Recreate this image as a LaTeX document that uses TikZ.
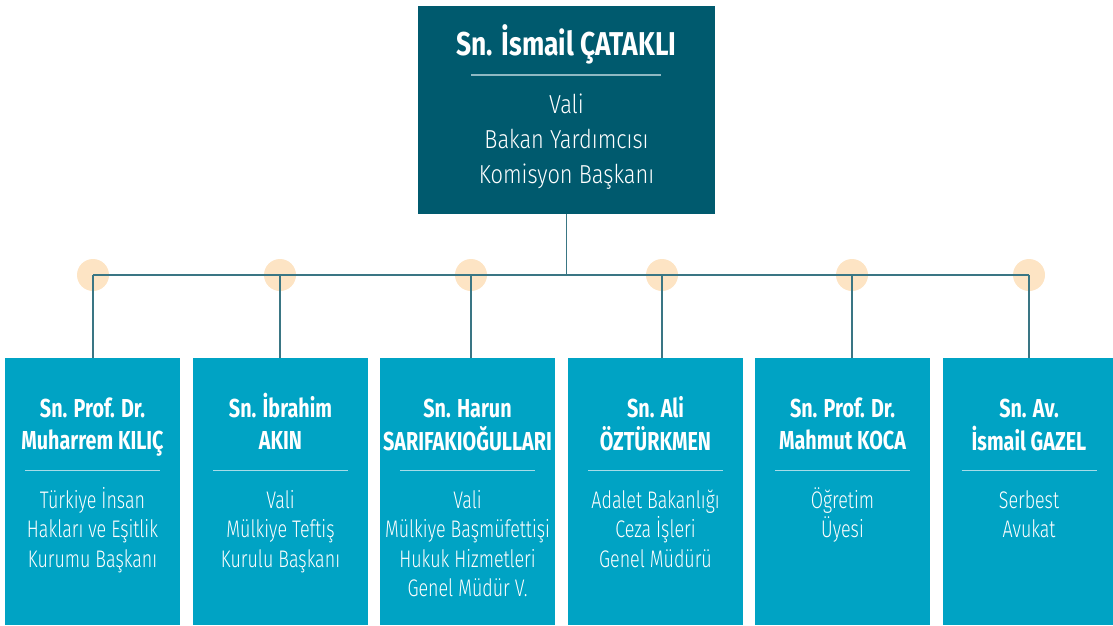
\documentclass[tikz,border=0pt]{standalone}
\usepackage{fontspec}
\setmainfont{Fira Sans}[FakeStretch=0.8]
\newfontfamily\namefont{Fira Sans}[FakeStretch=0.76]
\newfontfamily\descfont{Fira Sans Light}[FakeStretch=0.745]
\newfontfamily\topdescfont{Fira Sans Light}[FakeStretch=0.84]
\definecolor{topcol}{HTML}{005A6E}
\definecolor{botcol}{HTML}{00A3C4}
\definecolor{conncol}{HTML}{3A7684}
\definecolor{dotcol}{HTML}{FDE4C4}
\definecolor{ruletop}{HTML}{8FB9C3}
\definecolor{rulebot}{HTML}{A6DCE9}
\newcommand\mystack[1]{\begin{tabular}[t]{@{}c@{}}#1\end{tabular}}
\tikzset{
  topbox/.style={fill=topcol,draw=none,minimum width=297pt,minimum height=208pt,inner sep=0pt},
  botbox/.style={fill=botcol,draw=none,minimum width=175pt,minimum height=267pt,inner sep=0pt},
  dot/.style={circle,fill=dotcol,draw=none,minimum size=32pt,inner sep=0pt},
  conn/.style={draw=conncol,line width=1.2pt},
  toptitle/.style={text=white,anchor=base,inner sep=0pt,font=\bfseries\fontsize{33}{36}\selectfont},
  topdesc/.style={text=white,anchor=base,inner sep=0pt,font=\topdescfont\fontsize{26}{35}\selectfont},
  botname/.style={text=white,anchor=base,inner sep=0pt,font=\namefont\bfseries\fontsize{26}{32}\selectfont},
  botdesc/.style={text=white,anchor=base,inner sep=0pt,font=\descfont\fontsize{24}{29.5}\selectfont},
  toprule/.style={draw=ruletop,line width=1.2pt},
  botrule/.style={draw=rulebot,line width=1.2pt},
}
\begin{document}
\begin{tikzpicture}[x=1pt,y=-1pt]
\useasboundingbox (0,0) rectangle (1113,625);
% top box
\node[topbox] (top) at (566.5,110) {};
\node[toptitle] (toptxt) at (566.5,55) {Sn. İsmail ÇATAKLI};
\draw[toprule] (471,75) -- (661,75);
\node[topdesc] (topd) at (566.5,113) {\mystack{Vali\\Bakan Yardımcısı\\Komisyon Başkanı}};
% dots
\node[dot] (c1) at (93,275) {};
\node[dot] (c2) at (280,275) {};
\node[dot] (c3) at (471,275) {};
\node[dot] (c4) at (662,275) {};
\node[dot] (c5) at (852,275) {};
\node[dot] (c6) at (1029,275) {};
% bottom boxes
\node[botbox] (b1) at (92.5,491.5) {};
\node[botbox] (b2) at (280.5,491.5) {};
\node[botbox] (b3) at (467.5,491.5) {};
\node[botbox] (b4) at (655.5,491.5) {};
\node[botbox] (b5) at (842.5,491.5) {};
\node[botbox,minimum width=170pt] (b6) at (1028,491.5) {};
% connectors
\draw[conn] (top.south) -- (top.south |- c1.center);
\draw[conn] (c1.center) -- (c6.center);
\foreach \i in {1,...,6}{
  \draw[conn] (c\i.center) -- (c\i.center |- b\i.north);
}
% texts
\node[botname] (n1) at (92.5,417) {\mystack{Sn. Prof. Dr.\\Muharrem KILIÇ}};
\node[botname] (n2) at (280.5,417) {\mystack{Sn. İbrahim\\AKIN}};
\node[botname] (n3) at (467.5,417) {\mystack{Sn. Harun\\SARIFAKIOĞULLARI}};
\node[botname] (n4) at (655.5,417) {\mystack{Sn. Ali\\ÖZTÜRKMEN}};
\node[botname] (n5) at (842.5,417) {\mystack{Sn. Prof. Dr.\\Mahmut KOCA}};
\node[botname] (n6) at (1029,417) {\mystack{Sn. Av.\\İsmail GAZEL}};
\foreach \x in {92.5,280.5,467.5,655.5,842.5,1029}{
  \draw[botrule] (\x-67.5,470.5) -- (\x+67.5,470.5);
}
\node[botdesc] (d1) at (92.5,508) {\mystack{Türkiye İnsan\\Hakları ve Eşitlik\\Kurumu Başkanı}};
\node[botdesc] (d2) at (280.5,508) {\mystack{Vali\\Mülkiye Teftiş\\Kurulu Başkanı}};
\node[botdesc] (d3) at (467.5,508) {\mystack{Vali\\Mülkiye Başmüfettişi\\Hukuk Hizmetleri\\Genel Müdür V.}};
\node[botdesc] (d4) at (655.5,508) {\mystack{Adalet Bakanlığı\\Ceza İşleri\\Genel Müdürü}};
\node[botdesc] (d5) at (842.5,508) {\mystack{Öğretim\\Üyesi}};
\node[botdesc] (d6) at (1029,508) {\mystack{Serbest\\Avukat}};
\end{tikzpicture}
\end{document}
